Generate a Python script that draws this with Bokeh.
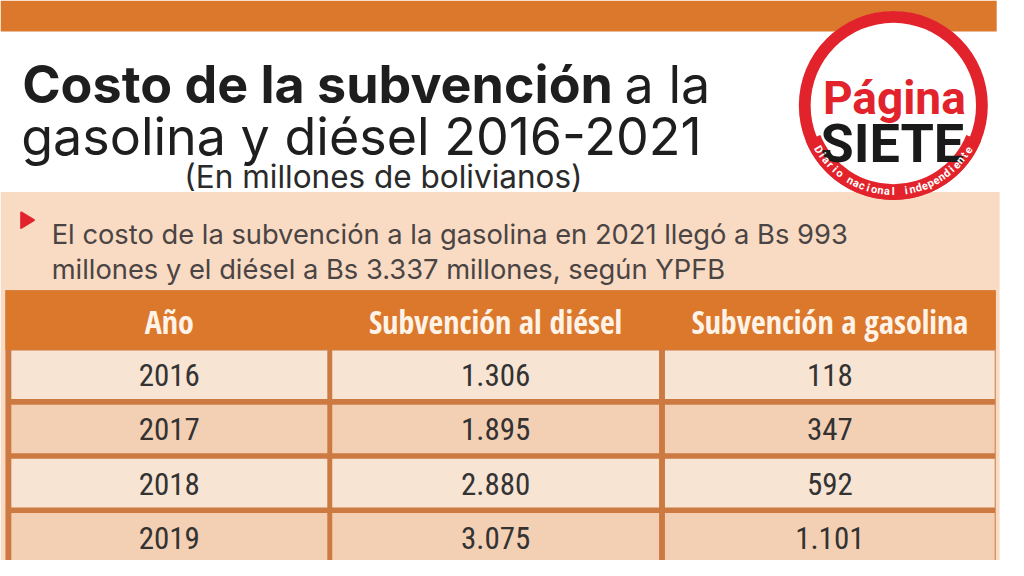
import math
from bokeh.plotting import figure
from bokeh.models import ColumnDataSource, Range1d
from bokeh.core.properties import value
from bokeh.embed import file_html
from bokeh.resources import INLINE

# ---------------- data ----------------
title_bold = "Costo de la subvención"
title_rest = "a la"
title_line2 = "gasolina y diésel 2016-2021"
subtitle = "(En millones de bolivianos)"
note_line1 = "El costo de la subvención a la gasolina en 2021 llegó a Bs 993"
note_line2 = "millones y el diésel a Bs 3.337 millones, según YPFB"
headers = ["Año", "Subvención al diésel", "Subvención a gasolina"]
years = ["2016", "2017", "2018", "2019"]
diesel = [1306, 1895, 2880, 3075]
gasolina = [118, 347, 592, 1101]
logo_top = "Página"
logo_bottom = "SIETE"
logo_arc = "Diario nacional independiente"

# ---------------- layout ----------------
W, H = 1024, 576


def Y(py):
    return H - py


ORANGE = "#DB782C"
FRAME = "#CC7A42"
PEACH = "#F8DBC2"
ROW_LIGHT = "#F7E4D3"
ROW_DARK = "#F3D0B3"
RED = "#E2232B"

TITLE_FONT = value("Inter")
HEAD_FONT = value("Open Sans Condensed")
CELL_FONT = value("Roboto Condensed")
LOGO_FONT = value("Roboto")

p = figure(width=1008, height=560, x_range=Range1d(0, W), y_range=Range1d(0, H),
           output_backend="svg", toolbar_location=None, min_border=0,
           x_axis_location=None, y_axis_location=None)
p.grid.visible = False
p.outline_line_color = None
p.background_fill_color = "white"
p.border_fill_color = "white"

# top orange bar and peach background
p.quad(left=[0], right=[1012], top=[Y(0)], bottom=[Y(32)], fill_color=ORANGE, line_color=None)
p.quad(left=[0], right=[1015], top=[Y(197)], bottom=[Y(576)], fill_color=PEACH, line_color=None)

# titles
p.text(x=[22], y=[Y(86)], text=[title_bold], text_font=TITLE_FONT, text_font_style="bold",
       text_font_size="52px", text_color="#1e1e1e", text_baseline="alphabetic")
p.text(x=[634], y=[Y(86)], text=[title_rest], text_font=TITLE_FONT,
       text_font_size="52px", text_color="#1e1e1e", text_baseline="alphabetic")
p.text(x=[21], y=[Y(140)], text=[title_line2], text_font=TITLE_FONT,
       text_font_size="52px", text_color="#1e1e1e", text_baseline="alphabetic")
p.text(x=[389], y=[Y(181)], text=[subtitle], text_font=TITLE_FONT, text_align="center",
       text_font_size="31.5px", text_color="#2a2a2a", text_baseline="alphabetic")

# logo
cx, cy = 907, Y(108)
p.scatter(x=[cx], y=[cy], size=188, marker="circle", fill_color="white", line_color=None)
p.annulus(x=[cx], y=[cy], inner_radius=84, outer_radius=96, fill_color=RED, line_color=None)
p.annular_wedge(x=[cx], y=[cy], inner_radius=80, outer_radius=96, start_angle=math.radians(202),
                end_angle=math.radians(338), fill_color=RED, line_color=None)
p.text(x=[cx + 1], y=[Y(100)], text=[logo_top], text_font=LOGO_FONT, text_font_style="bold",
       text_font_size="46px", text_color=RED, text_align="center", text_baseline="alphabetic")
p.text(x=[cx - 1], y=[Y(147)], text=[logo_bottom], text_font=LOGO_FONT, text_font_style="bold",
       text_font_size="54px", text_color="#1a1a1a", text_align="center", text_baseline="alphabetic")
n = len(logo_arc)
a0, a1 = math.radians(211), math.radians(329)
r_arc = 88.5
ax, ay, aang = [], [], []
for i in range(n):
    th = a0 + (a1 - a0) * i / (n - 1)
    ax.append(cx + r_arc * math.cos(th))
    ay.append(cy + r_arc * math.sin(th))
    aang.append(th + math.pi / 2)
p.text(x=ax, y=ay, text=list(logo_arc), angle=aang, text_font=LOGO_FONT, text_font_style="bold",
       text_font_size="11px", text_color="white", text_align="center", text_baseline="middle")

# bullet note
p.patch(x=[21, 21, 34], y=[Y(218), Y(234), Y(226)], fill_color=RED, line_color=RED, line_width=2,
        line_join="round")
p.text(x=[52, 52], y=[Y(241), Y(277)], text=[note_line1, note_line2], text_font=TITLE_FONT,
       text_font_size="27.3px", text_color="#4a4444", text_baseline="alphabetic")

# table
col_left = [11, 337, 675]
col_right = [332, 669, 1010]
p.quad(left=[5], right=[1011], top=[Y(298)], bottom=[Y(576)], fill_color=FRAME, line_color=None)
p.quad(left=[5], right=[1011], top=[Y(298)], bottom=[Y(359)], fill_color=ORANGE, line_color=None)
hx = [(l + r) / 2 for l, r in zip(col_left, col_right)]
p.text(x=hx, y=[Y(330)] * 3, text=headers, text_font=HEAD_FONT, text_font_style="bold",
       text_font_size="32px", text_color="#FFF3E8", text_align="center", text_baseline="middle")

fmt = lambda v: f"{v:,}".replace(",", ".")
pitch = 55.7
row_top0 = 360
L, R, T, B, C = [], [], [], [], []
tx, ty, tt = [], [], []
for i, yr in enumerate(years):
    vals = [yr, fmt(diesel[i]), fmt(gasolina[i])]
    top = row_top0 + i * pitch
    for j in range(3):
        L.append(col_left[j])
        R.append(col_right[j])
        T.append(Y(top))
        B.append(Y(top + 50))
        C.append(ROW_LIGHT if i % 2 == 0 else ROW_DARK)
        tx.append(hx[j])
        ty.append(Y(top + 25.5))
        tt.append(vals[j])
src = ColumnDataSource(dict(left=L, right=R, top=T, bottom=B, color=C))
p.quad(left="left", right="right", top="top", bottom="bottom", fill_color="color", line_color=None, source=src)
p.text(x=tx, y=ty, text=tt, text_font=CELL_FONT, text_font_size="31px", text_color="#333333",
       text_align="center", text_baseline="middle")

open("out.html", "w").write(file_html(p, INLINE))
